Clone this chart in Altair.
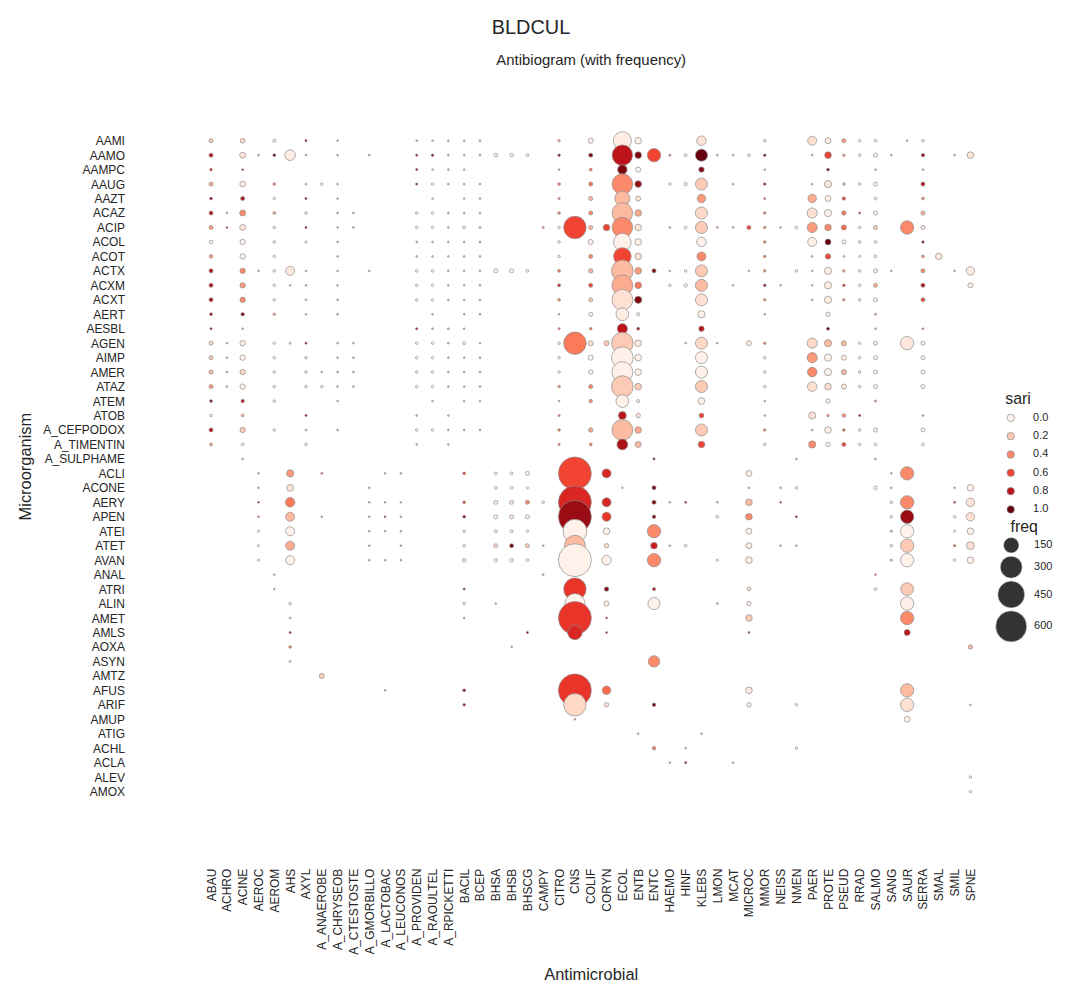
import altair as alt
import pandas as pd

organisms = ["ABAU", "ACHRO", "ACINE", "AEROC", "AEROM", "AHS", "AXYL", "A_ANAEROBE",
             "A_CHRYSEOB", "A_CTESTOSTE", "A_GMORBILLO", "A_LACTOBAC", "A_LEUCONOS",
             "A_PROVIDEN", "A_RAOULTEL", "A_RPICKETTI", "BACIL", "BCEP", "BHSA", "BHSB",
             "BHSCG", "CAMPY", "CITRO", "CNS", "COLIF", "CORYN", "ECOL", "ENTB", "ENTC",
             "HAEMO", "HINF", "KLEBS", "LMON", "MCAT", "MICROC", "MMOR", "NEISS", "NMEN",
             "PAER", "PROTE", "PSEUD", "RRAD", "SALMO", "SANG", "SAUR", "SERRA", "SMAL",
             "SMIL", "SPNE"]

antimicrobials = ["AAMI", "AAMO", "AAMPC", "AAUG", "AAZT", "ACAZ", "ACIP", "ACOL", "ACOT",
                  "ACTX", "ACXM", "ACXT", "AERT", "AESBL", "AGEN", "AIMP", "AMER", "ATAZ",
                  "ATEM", "ATOB", "A_CEFPODOX", "A_TIMENTIN", "A_SULPHAME", "ACLI", "ACONE",
                  "AERY", "APEN", "ATEI", "ATET", "AVAN", "ANAL", "ATRI", "ALIN", "AMET",
                  "AMLS", "AOXA", "ASYN", "AMTZ", "AFUS", "ARIF", "AMUP", "ATIG", "ACHL",
                  "ACLA", "ALEV", "AMOX"]

# (organism, freq, sari) per antimicrobial row
AAMI = [("ABAU",10,.2),("ACINE",14,.15),("AEROM",6,0),("AXYL",3,.9),("A_CHRYSEOB",2,.3),("A_PROVIDEN",2,.3),("A_RAOULTEL",2,.3),("A_RPICKETTI",2,.3),("BACIL",2,.3),("BCEP",2,.3),("CITRO",4,.3),("COLIF",16,.02),("ECOL",200,.05),("ENTB",27,.02),("KLEBS",56,.1),("MMOR",4,0),("PAER",50,.12),("PROTE",22,.05),("PSEUD",10,.35),("RRAD",4,0),("SALMO",5,0),("SAUR",2,.3),("SERRA",4,0)]
AAMO = [("ABAU",10,.8),("ACINE",22,.1),("AEROC",2,.3),("AEROM",5,.95),("AHS",70,.05),("AXYL",2,.3),("A_CHRYSEOB",2,.3),("A_GMORBILLO",2,.3),("A_PROVIDEN",3,.9),("A_RAOULTEL",4,.9),("A_RPICKETTI",2,.3),("BACIL",2,.3),("BCEP",2,.3),("BHSA",8,0),("BHSB",8,0),("BHSCG",5,0),("CITRO",4,.95),("COLIF",10,.95),("ECOL",260,.8),("ENTB",27,.95),("ENTC",110,.6),("HAEMO",3,.4),("HINF",5,.05),("KLEBS",90,1.0),("LMON",2,.3),("MCAT",2,.3),("MICROC",5,0),("MMOR",4,.9),("PAER",2,.3),("PROTE",27,.6),("PSEUD",4,.35),("RRAD",4,0),("SALMO",10,.02),("SANG",2,.3),("SERRA",7,.9),("SMIL",2,.3),("SPNE",27,.1)]
AAMPC = [("ABAU",4,.7),("ACINE",2,.9),("A_PROVIDEN",3,.9),("A_RAOULTEL",2,.3),("A_RPICKETTI",2,.3),("BACIL",2,.3),("CITRO",2,.3),("COLIF",5,.5),("ECOL",56,.95),("ENTB",16,0),("KLEBS",18,.95),("MMOR",2,.3),("PROTE",5,.95),("SALMO",2,.3),("SERRA",2,.3)]
AAUG = [("ABAU",10,.3),("ACINE",20,.05),("AEROM",5,.4),("AXYL",2,.3),("A_ANAEROBE",4,0),("A_CHRYSEOB",2,.3),("A_PROVIDEN",3,.9),("A_RAOULTEL",4,0),("A_RPICKETTI",2,.3),("BACIL",2,.3),("BCEP",2,.3),("CITRO",5,.4),("COLIF",10,.45),("ECOL",260,.4),("ENTB",27,.9),("HAEMO",4,0),("HINF",7,0),("KLEBS",90,.2),("MCAT",2,.3),("MMOR",4,.9),("PAER",2,.3),("PROTE",32,.1),("PSEUD",4,.3),("RRAD",4,0),("SALMO",10,.02),("SERRA",10,.8)]
AAZT = [("ABAU",5,.9),("ACINE",10,.85),("AEROM",4,0),("AXYL",3,.9),("A_CHRYSEOB",2,.3),("A_RAOULTEL",2,.3),("BACIL",2,.3),("BCEP",2,.3),("CITRO",3,.4),("COLIF",10,.25),("ECOL",140,.25),("ENTB",16,.1),("KLEBS",44,.35),("MMOR",3,.4),("PAER",44,.3),("PROTE",22,.05),("PSEUD",7,.6),("SALMO",5,0),("SERRA",5,.4)]
ACAZ = [("ABAU",10,.8),("ACHRO",2,.3),("ACINE",22,.4),("AEROM",5,.3),("AXYL",4,0),("A_CHRYSEOB",2,.3),("A_CTESTOSTE",2,.3),("A_PROVIDEN",4,0),("A_RAOULTEL",4,0),("A_RPICKETTI",2,.3),("BACIL",2,.3),("BCEP",2,.3),("CITRO",4,.45),("COLIF",10,.4),("ECOL",260,.25),("ENTB",27,.3),("KLEBS",90,.15),("MMOR",4,.45),("PAER",64,.12),("PROTE",32,.02),("PSEUD",12,.45),("RRAD",3,.6),("SALMO",10,.02),("SERRA",10,.3)]
ACIP = [("ABAU",10,.35),("ACHRO",2,.8),("ACINE",22,.1),("AEROM",4,.05),("AXYL",3,.9),("A_CHRYSEOB",2,.3),("A_CTESTOSTE",2,.3),("A_PROVIDEN",4,0),("A_RAOULTEL",4,0),("A_RPICKETTI",2,.3),("BACIL",5,.05),("BCEP",2,.3),("CAMPY",3,.35),("CITRO",4,0),("CNS",310,.6),("COLIF",10,.25),("CORYN",27,.6),("ECOL",260,.4),("ENTB",27,.08),("HAEMO",2,.3),("HINF",5,0),("KLEBS",90,.2),("LMON",2,.4),("MCAT",2,.3),("MICROC",10,.6),("MMOR",4,.4),("NEISS",2,.3),("NMEN",5,0),("PAER",64,.35),("PROTE",27,.4),("PSEUD",16,.5),("RRAD",4,0),("SALMO",10,.2),("SAUR",110,.4),("SERRA",10,.05)]
ACOL = [("ABAU",8,0),("ACINE",18,0),("AEROM",4,0),("AXYL",3,0),("A_CHRYSEOB",2,.3),("A_PROVIDEN",2,.3),("A_RAOULTEL",2,.3),("A_RPICKETTI",2,.3),("BACIL",2,.3),("BCEP",2,.5),("CITRO",4,0),("COLIF",16,.02),("ECOL",190,.02),("ENTB",27,.02),("KLEBS",56,.03),("MMOR",4,.5),("PAER",50,.03),("PROTE",22,1.0),("PSEUD",10,.02),("RRAD",4,0),("SALMO",5,0),("SERRA",4,.95)]
ACOT = [("ABAU",8,.35),("ACINE",18,0),("AEROM",4,0),("A_CHRYSEOB",2,.3),("A_PROVIDEN",2,.3),("A_RAOULTEL",2,.3),("A_RPICKETTI",2,.3),("BACIL",2,.3),("BCEP",2,.3),("CITRO",4,.05),("COLIF",10,.4),("ECOL",190,.6),("ENTB",27,.1),("KLEBS",50,.4),("MMOR",4,.5),("PAER",2,.3),("PROTE",18,.6),("PSEUD",2,.3),("RRAD",3,0),("SALMO",5,0),("SERRA",5,.4),("SMAL",27,.08)]
ACTX = [("ABAU",10,.8),("ACINE",18,.4),("AEROC",2,.3),("AEROM",4,0),("AHS",50,.08),("AXYL",2,.3),("A_CHRYSEOB",2,.3),("A_GMORBILLO",2,.3),("A_PROVIDEN",4,0),("A_RAOULTEL",4,0),("A_RPICKETTI",2,.3),("BACIL",2,.3),("BCEP",2,.3),("BHSA",10,0),("BHSB",10,0),("BHSCG",5,0),("CITRO",5,.45),("COLIF",12,.25),("ECOL",290,.25),("ENTB",27,.35),("ENTC",10,.95),("HAEMO",2,.3),("HINF",4,0),("KLEBS",90,.2),("MICROC",2,.3),("MMOR",4,.4),("NMEN",4,0),("PAER",2,.3),("PROTE",32,.05),("PSEUD",4,.3),("RRAD",4,0),("SALMO",10,.02),("SANG",2,.3),("SERRA",10,.4),("SMIL",2,.3),("SPNE",44,.05)]
ACXM = [("ABAU",10,.8),("ACINE",18,.35),("AEROM",4,0),("AHS",2,.3),("AXYL",2,.3),("A_CHRYSEOB",2,.3),("A_PROVIDEN",4,0),("A_RAOULTEL",4,0),("A_RPICKETTI",2,.3),("BACIL",2,.3),("BCEP",2,.3),("CITRO",5,.8),("COLIF",10,.6),("ECOL",270,.3),("ENTB",27,.45),("HAEMO",4,0),("HINF",8,0),("KLEBS",90,.25),("MCAT",2,.3),("MMOR",4,.9),("NEISS",2,.3),("PAER",2,.3),("PROTE",32,.05),("PSEUD",4,.7),("RRAD",4,0),("SALMO",10,.3),("SERRA",10,.8),("SPNE",16,.02)]
ACXT = [("ABAU",10,.85),("ACINE",18,.4),("AEROM",4,0),("AXYL",2,.3),("A_CHRYSEOB",2,.3),("A_PROVIDEN",4,0),("A_RAOULTEL",4,0),("A_RPICKETTI",2,.3),("BACIL",2,.3),("BCEP",2,.3),("CITRO",5,.4),("COLIF",10,.2),("ECOL",270,.12),("ENTB",32,.95),("KLEBS",90,.12),("MMOR",4,.4),("PAER",2,.3),("PROTE",32,.05),("PSEUD",4,.35),("RRAD",4,0),("SALMO",10,.02),("SERRA",10,.6)]
AERT = [("ABAU",5,.9),("ACINE",7,.95),("AEROM",4,.35),("AXYL",2,.3),("A_CHRYSEOB",2,.3),("A_RAOULTEL",2,.3),("BACIL",2,.3),("BCEP",2,.3),("CITRO",2,.3),("COLIF",10,.02),("ECOL",100,.05),("ENTB",6,0),("KLEBS",32,.03),("MMOR",2,.3),("PROTE",12,.02),("SALMO",3,.3)]
AESBL = [("ABAU",3,.9),("ACINE",2,.3),("A_PROVIDEN",3,.9),("A_RAOULTEL",2,.3),("A_RPICKETTI",2,.3),("BACIL",2,.3),("CITRO",3,.45),("COLIF",4,.5),("ECOL",64,.8),("ENTB",5,.85),("KLEBS",18,.8),("PROTE",6,.95),("SALMO",2,.3),("SERRA",2,.5)]
AGEN = [("ABAU",10,.15),("ACHRO",2,.3),("ACINE",18,.05),("AEROM",4,0),("AHS",3,0),("AXYL",3,.9),("A_CHRYSEOB",2,.3),("A_CTESTOSTE",2,.3),("A_PROVIDEN",4,0),("A_RAOULTEL",4,0),("A_RPICKETTI",2,.3),("BACIL",5,0),("BCEP",2,.3),("CITRO",4,0),("CNS",310,.45),("COLIF",16,.12),("CORYN",16,.2),("ECOL",290,.2),("ENTB",27,.08),("HINF",2,.3),("KLEBS",90,.15),("LMON",2,.3),("MICROC",16,.05),("MMOR",4,.4),("PAER",64,.15),("PROTE",32,.25),("PSEUD",16,.25),("RRAD",4,0),("SALMO",10,.02),("SAUR",110,.08),("SERRA",10,.02)]
AIMP = [("ABAU",10,.2),("ACHRO",2,.3),("ACINE",18,.02),("AEROM",4,0),("AXYL",4,0),("A_CHRYSEOB",2,.3),("A_CTESTOSTE",2,.3),("A_PROVIDEN",4,0),("A_RAOULTEL",4,0),("A_RPICKETTI",2,.3),("BACIL",2,.3),("BCEP",2,.3),("CITRO",4,0),("COLIF",16,0),("ECOL",290,.03),("ENTB",27,.03),("KLEBS",90,.03),("MMOR",4,0),("PAER",64,.35),("PROTE",32,.02),("PSEUD",16,.05),("RRAD",4,0),("SALMO",10,.02),("SERRA",10,.02)]
AMER = [("ABAU",10,.25),("ACHRO",2,.3),("ACINE",18,.15),("AEROM",4,0),("AXYL",4,0),("A_ANAEROBE",2,.3),("A_CHRYSEOB",2,.3),("A_CTESTOSTE",2,.3),("A_PROVIDEN",4,0),("A_RAOULTEL",4,0),("A_RPICKETTI",2,.3),("BACIL",2,.3),("BCEP",2,.3),("CITRO",4,0),("COLIF",12,.02),("ECOL",270,.03),("ENTB",27,.03),("KLEBS",90,.03),("MMOR",4,0),("PAER",56,.4),("PROTE",32,.02),("PSEUD",16,.25),("RRAD",4,0),("SALMO",10,.02),("SERRA",10,.02)]
ATAZ = [("ABAU",10,.35),("ACHRO",2,.3),("ACINE",18,.02),("AEROM",4,0),("AXYL",4,0),("A_ANAEROBE",4,0),("A_CHRYSEOB",2,.3),("A_CTESTOSTE",2,.3),("A_PROVIDEN",4,0),("A_RAOULTEL",4,0),("A_RPICKETTI",2,.3),("BACIL",2,.3),("BCEP",2,.3),("CITRO",4,.4),("COLIF",10,.4),("ECOL",290,.2),("ENTB",27,.2),("KLEBS",90,.2),("MMOR",4,0),("PAER",56,.12),("PROTE",27,.12),("PSEUD",16,.08),("RRAD",4,0),("SALMO",10,.02),("SERRA",10,.02)]
ATEM = [("ABAU",5,.95),("ACINE",7,.8),("AEROM",4,0),("A_CHRYSEOB",2,.3),("A_RAOULTEL",2,.3),("BACIL",2,.3),("BCEP",2,.3),("CITRO",2,.3),("COLIF",7,.4),("ECOL",100,.03),("ENTB",6,0),("KLEBS",27,.03),("MMOR",2,.3),("PROTE",12,.02),("SALMO",3,.3)]
ATOB = [("ABAU",4,.05),("ACINE",5,.3),("AXYL",3,.9),("A_PROVIDEN",2,.3),("A_RPICKETTI",2,.3),("CITRO",3,.4),("ECOL",38,.8),("ENTB",12,.1),("KLEBS",14,.6),("MMOR",2,.3),("PAER",32,.12),("PROTE",4,.35),("PSEUD",8,.4),("RRAD",3,.95),("SERRA",2,.3)]
A_CEFPODOX = [("ABAU",10,.8),("ACINE",18,.2),("AEROM",4,0),("AXYL",2,.3),("A_CHRYSEOB",2,.3),("A_PROVIDEN",4,0),("A_RAOULTEL",4,0),("A_RPICKETTI",2,.3),("BACIL",2,.3),("BCEP",2,.3),("CITRO",4,.45),("COLIF",12,.3),("ECOL",270,.25),("ENTB",27,.3),("KLEBS",90,.2),("MMOR",4,.45),("PAER",2,.3),("PROTE",27,.05),("PSEUD",4,.6),("RRAD",4,0),("SALMO",10,.02),("SERRA",10,.02)]
A_TIMENTIN = [("ABAU",5,.35),("ACINE",5,.05),("AXYL",4,0),("A_PROVIDEN",2,.3),("A_RPICKETTI",2,.3),("CITRO",3,.45),("COLIF",5,.45),("ECOL",72,.85),("ENTB",22,.25),("KLEBS",27,.6),("MMOR",4,0),("PAER",32,.4),("PROTE",12,.02),("PSEUD",10,.6),("RRAD",4,0),("SALMO",5,0),("SERRA",5,0)]
A_SULPHAME = [("ACINE",2,.3),("ENTC",3,.95),("NMEN",2,.3),("SALMO",2,.3)]
ACLI = [("AEROC",2,.3),("AHS",32,.35),("A_ANAEROBE",3,.4),("A_LACTOBAC",2,.3),("A_LEUCONOS",2,.3),("BACIL",5,.6),("BHSA",5,0),("BHSB",5,0),("BHSCG",10,0),("CNS",670,.6),("CORYN",50,.7),("MICROC",22,.05),("SANG",2,.3),("SAUR",110,.4)]
ACONE = [("AEROC",2,.3),("AHS",28,.1),("A_GMORBILLO",2,.3),("BHSA",5,0),("BHSB",5,0),("BHSCG",3,0),("ECOL",2,.1),("ENTC",10,.95),("MICROC",2,.3),("NEISS",2,.3),("NMEN",4,0),("SALMO",8,0),("SANG",2,.3),("SMIL",2,.3),("SPNE",27,.03)]
AERY = [("AEROC",2,.9),("AHS",55,.45),("A_GMORBILLO",2,.3),("A_LACTOBAC",2,.3),("A_LEUCONOS",2,.3),("BACIL",5,.6),("BHSA",10,.02),("BHSB",10,.1),("BHSCG",10,.4),("CAMPY",4,0),("CNS",670,.7),("CORYN",50,.7),("ENTC",10,.95),("HAEMO",2,.3),("HINF",3,.7),("LMON",2,.3),("MICROC",27,.25),("NEISS",2,.9),("SANG",4,0),("SAUR",110,.4),("SMIL",3,.6),("SPNE",44,.1)]
APEN = [("AEROC",2,.5),("AHS",50,.25),("A_ANAEROBE",2,.3),("A_GMORBILLO",2,.3),("A_LACTOBAC",2,.9),("A_LEUCONOS",2,.3),("BACIL",5,.9),("BHSA",10,.02),("BHSB",10,.1),("BHSCG",10,.02),("CNS",670,.9),("CORYN",50,.65),("ENTC",8,.95),("LMON",5,0),("MICROC",27,.4),("NMEN",3,.9),("SANG",4,0),("SAUR",110,.9),("SMIL",4,0),("SPNE",44,.12)]
ATEI = [("AEROC",3,0),("AHS",50,.02),("A_GMORBILLO",2,.3),("A_LACTOBAC",2,.3),("A_LEUCONOS",2,.3),("BACIL",4,0),("BHSA",6,0),("BHSB",6,0),("BHSCG",4,0),("CNS",350,.02),("CORYN",27,.02),("ENTC",110,.4),("MICROC",22,.03),("SANG",3,.3),("SAUR",110,.02),("SMIL",3,0),("SPNE",27,.03)]
ATET = [("AEROC",3,0),("AHS",50,.3),("A_GMORBILLO",2,.3),("A_LEUCONOS",2,.3),("BACIL",4,0),("BHSA",10,.15),("BHSB",10,.95),("BHSCG",10,.2),("CAMPY",2,.3),("CNS",270,.25),("CORYN",12,.15),("ENTC",27,.75),("HAEMO",2,.3),("HINF",5,0),("MICROC",22,.05),("NEISS",2,.3),("NMEN",2,.3),("SANG",4,0),("SAUR",110,.2),("SMIL",3,.6),("SPNE",38,.12)]
AVAN = [("AEROC",3,0),("AHS",50,.02),("A_GMORBILLO",2,.3),("A_LACTOBAC",2,.3),("A_LEUCONOS",2,.3),("BACIL",8,.05),("BHSA",7,0),("BHSB",8,0),("BHSCG",5,0),("CNS",670,.02),("CORYN",56,.03),("ENTC",110,.4),("LMON",3,0),("MICROC",27,.05),("SANG",3,.3),("SAUR",110,.02),("SMIL",4,0),("SPNE",27,.03)]
ANAL = [("AEROM",2,.3),("CAMPY",2,.3),("SALMO",2,.5)]
ATRI = [("AEROM",2,.3),("BACIL",3,.9),("CNS",310,.65),("CORYN",12,.95),("ENTC",6,.8),("MICROC",8,.15),("SALMO",5,0),("SAUR",100,.2)]
ALIN = [("AHS",4,.05),("BACIL",4,.05),("BHSA",2,.3),("CNS",250,.02),("CORYN",16,.05),("ENTC",90,.02),("LMON",2,.3),("MICROC",12,.03),("SAUR",110,.03)]
AMET = [("AHS",2,.3),("BACIL",2,.3),("CNS",670,.65),("CORYN",2,.9),("MICROC",27,.2),("SAUR",110,.4)]
AMLS = [("AHS",3,.9),("BHSCG",3,.95),("CNS",130,.7),("CORYN",2,.9),("MICROC",2,.95),("SAUR",22,.8)]
AOXA = [("AHS",4,.5),("BHSB",2,.3),("SPNE",12,.25)]
ASYN = [("AHS",3,.05),("ENTC",80,.4)]
AMTZ = [("A_ANAEROBE",16,.2)]
AFUS = [("A_LACTOBAC",2,.3),("BACIL",5,.95),("CNS",670,.65),("CORYN",44,.5),("MICROC",27,.05),("SAUR",110,.25)]
ARIF = [("BACIL",4,.9),("CNS",310,.15),("CORYN",12,.1),("ENTC",8,.95),("MICROC",12,.03),("NMEN",4,0),("SAUR",110,.12),("SPNE",2,.3)]
AMUP = [("CNS",2,.3),("SAUR",22,.02)]
ATIG = [("ENTB",2,.3),("KLEBS",2,.3)]
ACHL = [("ENTC",8,.4),("HINF",2,.3),("NMEN",4,0)]
ACLA = [("HAEMO",2,.3),("HINF",3,.8),("MCAT",2,.3)]
ALEV = [("SPNE",4,0)]
AMOX = [("SPNE",4,0)]

sari_ticks = [0.0, 0.2, 0.4, 0.6, 0.8, 1.0]
freq_ticks = [150, 300, 450, 600]
reds_stops = [0, 0.125, 0.25, 0.375, 0.5, 0.625, 0.75, 0.875, 1.0]
reds_colors = ["#fff5f0", "#fee0d2", "#fcbba1", "#fc9272", "#fb6a4a",
               "#ef3b2c", "#cb181d", "#a50f15", "#67000d"]

rows = {
    "AAMI": AAMI, "AAMO": AAMO, "AAMPC": AAMPC, "AAUG": AAUG, "AAZT": AAZT, "ACAZ": ACAZ,
    "ACIP": ACIP, "ACOL": ACOL, "ACOT": ACOT, "ACTX": ACTX, "ACXM": ACXM, "ACXT": ACXT,
    "AERT": AERT, "AESBL": AESBL, "AGEN": AGEN, "AIMP": AIMP, "AMER": AMER, "ATAZ": ATAZ,
    "ATEM": ATEM, "ATOB": ATOB, "A_CEFPODOX": A_CEFPODOX, "A_TIMENTIN": A_TIMENTIN,
    "A_SULPHAME": A_SULPHAME, "ACLI": ACLI, "ACONE": ACONE, "AERY": AERY, "APEN": APEN,
    "ATEI": ATEI, "ATET": ATET, "AVAN": AVAN, "ANAL": ANAL, "ATRI": ATRI, "ALIN": ALIN,
    "AMET": AMET, "AMLS": AMLS, "AOXA": AOXA, "ASYN": ASYN, "AMTZ": AMTZ, "AFUS": AFUS,
    "ARIF": ARIF, "AMUP": AMUP, "ATIG": ATIG, "ACHL": ACHL, "ACLA": ACLA, "ALEV": ALEV,
    "AMOX": AMOX,
}

records = []
for abx in antimicrobials:
    for org, f, s in rows[abx]:
        records.append({"organism": org, "antimicrobial": abx, "freq": f, "sari": s})
df = pd.DataFrame(records)

FONT = "Liberation Sans"
TXT = "#262626"

x_scale = alt.Scale(type="point", domain=organisms, range=[82, 845], padding=0)
y_scale = alt.Scale(type="point", domain=antimicrobials, range=[71, 725], padding=0)

points = alt.Chart(df).mark_circle(
    opacity=1, stroke="#8c8c8c", strokeWidth=0.7
).encode(
    x=alt.X("organism:N", scale=x_scale,
            axis=alt.Axis(title="Antimicrobial", labelAngle=-90, labelPadding=5,
                          titlePadding=12, ticks=False, domain=False, grid=False,
                          labelFontSize=12, titleFontSize=16.5)),
    y=alt.Y("antimicrobial:N", scale=y_scale,
            axis=alt.Axis(title="Microorganism", labelPadding=5, titlePadding=9,
                          ticks=False, domain=False, grid=False,
                          labelFontSize=12, titleFontSize=16.5)),
    color=alt.Color("sari:Q", scale=alt.Scale(domain=reds_stops, range=reds_colors, interpolate="rgb"),
                    legend=alt.Legend(type="symbol", values=sari_ticks, format=".1f",
                                      title="sari", orient="none", legendX=880, legendY=323,
                                      symbolType="circle", symbolSize=55,
                                      symbolStrokeColor="#8c8c8c", symbolStrokeWidth=0.7,
                                      rowPadding=6.4, labelOffset=17, padding=0,
                                      titlePadding=5, titleFontSize=16, labelFontSize=11)),
    size=alt.Size("freq:Q", scale=alt.Scale(type="linear", domain=[0, 600], range=[0, 980], zero=True),
                  legend=alt.Legend(values=freq_ticks, title="freq", orient="none",
                                    legendX=870, legendY=451, symbolType="circle",
                                    symbolFillColor="#333333", symbolStrokeColor="white",
                                    symbolStrokeWidth=0.5, symbolOpacity=1,
                                    rowPadding=0, labelOffset=7, padding=0,
                                    titleAnchor="middle", titlePadding=2,
                                    titleFontSize=16, labelFontSize=11)),
)

top = alt.Chart(df).mark_circle(opacity=0, size=1).encode(
    x=alt.X("organism:N", scale=x_scale,
            axis=alt.Axis(orient="top", title="Antibiogram (with frequency)", labels=False,
                          ticks=False, domain=False, grid=False, titlePadding=3,
                          titleFontSize=15)),
)

chart = alt.layer(points, top).resolve_axis(x="independent").properties(
    width=923, height=797,
    title=alt.TitleParams("BLDCUL", anchor="middle", dx=-58, fontSize=20,
                          fontWeight="normal", font=FONT, color=TXT, offset=14),
    autosize=alt.AutoSizeParams(type="none"),
    padding={"left": 122, "top": 60, "right": 10, "bottom": 120},
).configure(font=FONT, background="white").configure_view(stroke=None).configure_axis(
    labelFont=FONT, titleFont=FONT, labelColor=TXT, titleColor=TXT, titleFontWeight="normal"
).configure_legend(
    labelFont=FONT, titleFont=FONT, labelColor=TXT, titleColor=TXT, titleFontWeight="normal"
)

chart.save("out.html", embed_options={"renderer": "svg", "actions": False})
